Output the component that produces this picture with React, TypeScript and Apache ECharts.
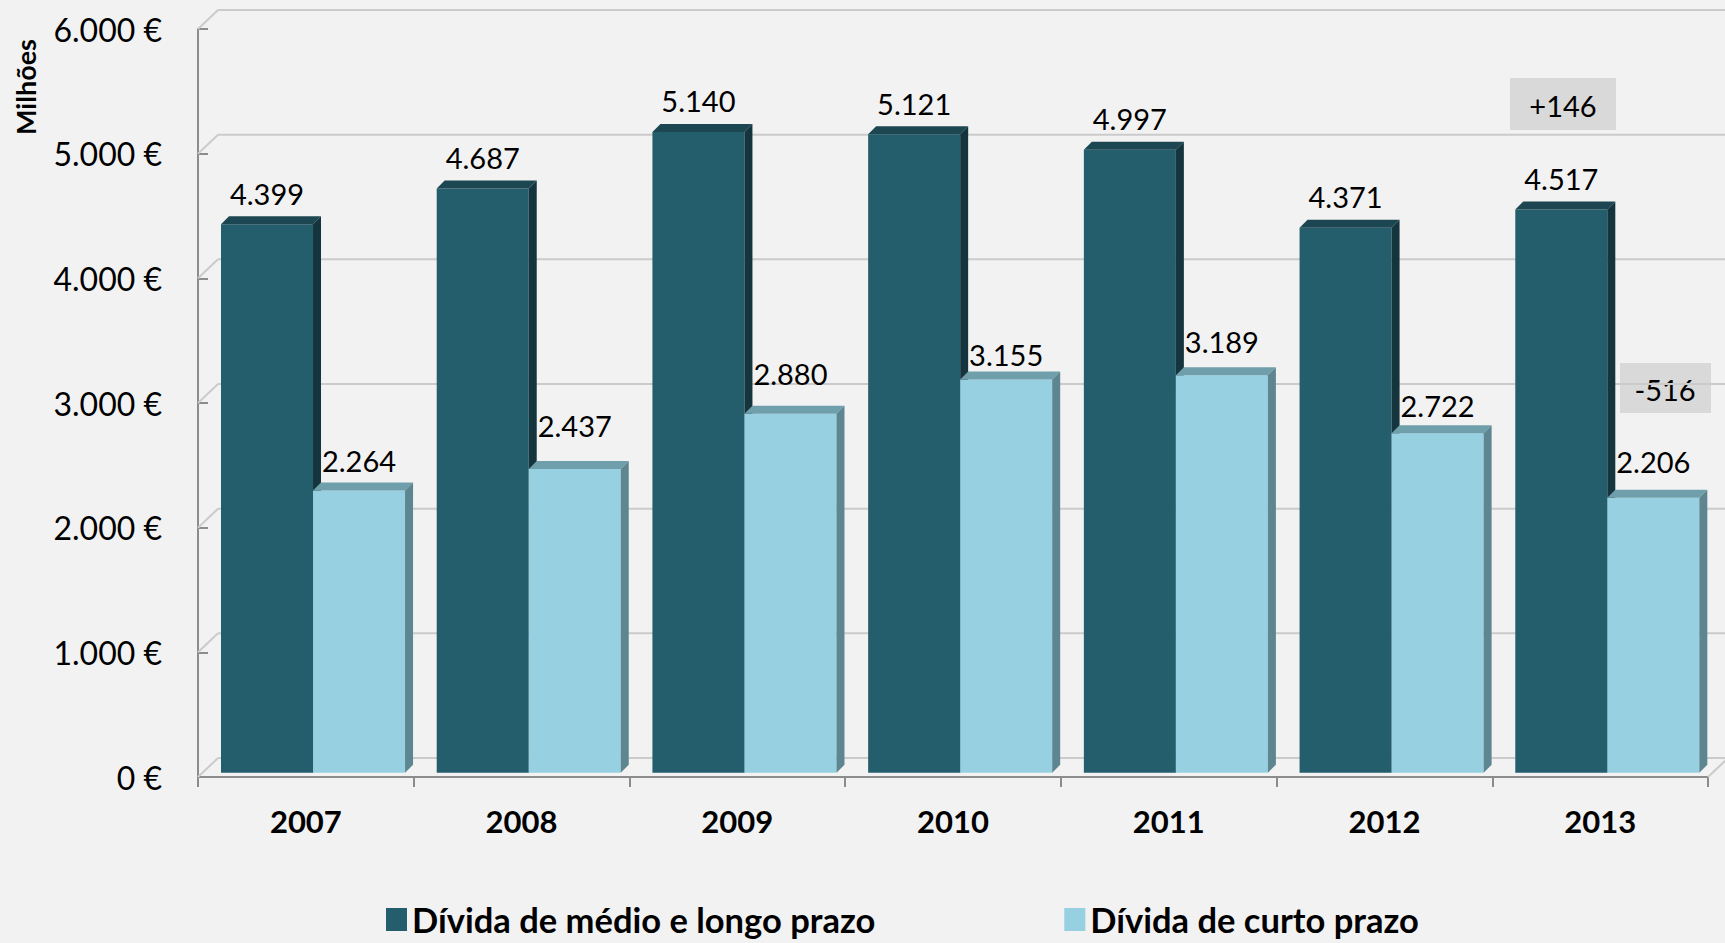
import React, { useEffect, useRef } from 'react';
import * as echarts from 'echarts';

const years = ['2007', '2008', '2009', '2010', '2011', '2012', '2013'];
const longTerm = [4399, 4687, 5140, 5121, 4997, 4371, 4517];
const shortTerm = [2264, 2437, 2880, 3155, 3189, 2722, 2206];
const yTicks = [0, 1000, 2000, 3000, 4000, 5000, 6000];
const seriesNames = ['Dívida de médio e longo prazo', 'Dívida de curto prazo'];
const annotationTexts = ['+146', '-516'];
// extra lift (px) of each value label above its bar, as placed in the original
const longLabelLift = [0, 0, 0, 0, 0, 0, 0];
const shortLabelLift = [-1, 12, 9, -6, 3, -3, 5];

const FONT = 'Lato, "Open Sans", sans-serif';
const DEPTH = 8;
const BAR_SHIFT_Y = -4.3;
const WALL_DX = 20;
const WALL_DY = -19;

const palettes = [
  { front: '#245d6b', top: '#1c4651', side: '#15353e' },
  { front: '#97d0e0', top: '#6f9fab', side: '#5d8691' },
];
const labelLifts = [longLabelLift, shortLabelLift];

const fmt = (v: number) => String(Math.round(v)).replace(/\B(?=(\d{3})+(?!\d))/g, '.');

function makeBarRender(seriesIdx: number) {
  const pal = palettes[seriesIdx];
  const lifts = labelLifts[seriesIdx];
  return (params: any, api: any) => {
    const idx = api.value(0);
    const val = api.value(1);
    const top = api.coord([idx, val]);
    const bot = api.coord([idx, 0]);
    const band = api.size([1, 0])[0];
    const w = band * 0.4266;
    const xl = top[0] - band / 2 + band * 0.1066 + seriesIdx * w;
    const xr = xl + w;
    const yt = top[1] + BAR_SHIFT_Y;
    const yb = bot[1] + BAR_SHIFT_Y;
    return {
      type: 'group',
      children: [
        { type: 'rect', shape: { x: xl, y: yt, width: w, height: yb - yt }, style: { fill: pal.front } },
        {
          type: 'polygon',
          shape: { points: [[xl, yt], [xl + DEPTH, yt - DEPTH], [xr + DEPTH, yt - DEPTH], [xr, yt]] },
          style: { fill: pal.top },
        },
        {
          type: 'polygon',
          shape: { points: [[xr, yt], [xr + DEPTH, yt - DEPTH], [xr + DEPTH, yb - DEPTH], [xr, yb]] },
          style: { fill: pal.side },
        },
        {
          type: 'text',
          style: {
            text: fmt(val),
            x: (xl + xr) / 2,
            y: yt - 31 - (lifts[idx] || 0),
            align: 'center',
            verticalAlign: 'middle',
            fontFamily: FONT,
            fontSize: 29,
            fill: '#000',
          },
        },
      ],
    };
  };
}

function gridRender(params: any, api: any) {
  const v = api.value(1);
  const cs = params.coordSys;
  const y = api.coord([0, v])[1];
  const x0 = cs.x;
  const x1 = cs.x + cs.width;
  const st = { stroke: '#cbcbcb', lineWidth: 2 };
  const children: any[] = [
    { type: 'line', shape: { x1: x0, y1: y, x2: x0 + WALL_DX, y2: y + WALL_DY }, style: st },
    { type: 'line', shape: { x1: x0 + WALL_DX, y1: y + WALL_DY, x2: x1 + WALL_DX, y2: y + WALL_DY }, style: st },
  ];
  if (v === 0) {
    children.push({ type: 'line', shape: { x1: x1, y1: y, x2: x1 + WALL_DX, y2: y + WALL_DY }, style: st });
  }
  return { type: 'group', children };
}

export default function App() {
  const ref = useRef<HTMLDivElement>(null);
  useEffect(() => {
    document.body.style.margin = '0';
    const chart = echarts.init(ref.current!, null, { renderer: 'svg' });
    chart.setOption({
      animation: false,
      backgroundColor: '#f2f2f2',
      grid: { left: 198, right: 17, top: 29, bottom: 166 },
      legend: {
        left: 381,
        top: 897,
        icon: 'rect',
        itemWidth: 21,
        itemHeight: 23,
        itemGap: 189,
        data: seriesNames,
        textStyle: { fontFamily: FONT, fontWeight: 'bold', fontSize: 34.5, color: '#000' },
      },
      xAxis: {
        type: 'category',
        data: years,
        axisLine: { lineStyle: { color: '#8c8c8c', width: 2 } },
        axisTick: { show: true, length: 10, lineStyle: { color: '#8c8c8c', width: 2 } },
        axisLabel: { fontFamily: FONT, fontWeight: 'bold', fontSize: 31, color: '#000', margin: 28 },
        splitLine: { show: false },
      },
      yAxis: {
        type: 'value',
        min: 0,
        max: 6000,
        interval: 1000,
        axisLine: { show: true, lineStyle: { color: '#8c8c8c', width: 2 } },
        axisTick: { show: true, inside: true, length: 10, lineStyle: { color: '#8c8c8c', width: 2 } },
        axisLabel: {
          fontFamily: FONT,
          fontSize: 32,
          color: '#000',
          margin: 36,
          formatter: (v: number) => fmt(v) + ' €',
        },
        splitLine: { show: false },
      },
      series: [
        {
          type: 'custom',
          name: 'grid',
          z: 1,
          silent: true,
          renderItem: gridRender,
          data: yTicks.map((v) => [0, v]),
        },
        {
          type: 'custom',
          name: seriesNames[0],
          z: 2,
          itemStyle: { color: palettes[0].front },
          renderItem: makeBarRender(0),
          data: longTerm.map((v, i) => [i, v]),
        },
        {
          type: 'custom',
          name: seriesNames[1],
          z: 3,
          itemStyle: { color: palettes[1].front },
          renderItem: makeBarRender(1),
          data: shortTerm.map((v, i) => [i, v]),
        },
      ],
      graphic: [
        {
          type: 'text',
          x: 25,
          y: 87,
          rotation: Math.PI / 2,
          style: {
            text: 'Milhões',
            align: 'center',
            verticalAlign: 'middle',
            fontFamily: FONT,
            fontWeight: 'bold',
            fontSize: 27,
            fill: '#000',
          },
        },
        {
          type: 'group',
          x: 1510,
          y: 78,
          z: 10,
          children: [
            { type: 'rect', shape: { x: 0, y: 0, width: 106, height: 52 }, style: { fill: '#d9d9d9' } },
            {
              type: 'text',
              x: 53,
              y: 27,
              style: { text: annotationTexts[0], align: 'center', verticalAlign: 'middle', fontFamily: FONT, fontSize: 29, fill: '#000' },
            },
          ],
        },
        {
          type: 'group',
          x: 1620,
          y: 363,
          z: 10,
          children: [
            { type: 'rect', shape: { x: 0, y: 0, width: 91, height: 50 }, style: { fill: '#d9d9d9' } },
            {
              type: 'text',
              x: 45,
              y: 26,
              style: { text: annotationTexts[1], align: 'center', verticalAlign: 'middle', fontFamily: FONT, fontSize: 29, fill: '#000' },
            },
          ],
        },
      ],
    });
    return () => chart.dispose();
  }, []);
  return <div ref={ref} style={{ position: 'fixed', left: 0, top: 0, width: 1725, height: 943 }} />;
}
